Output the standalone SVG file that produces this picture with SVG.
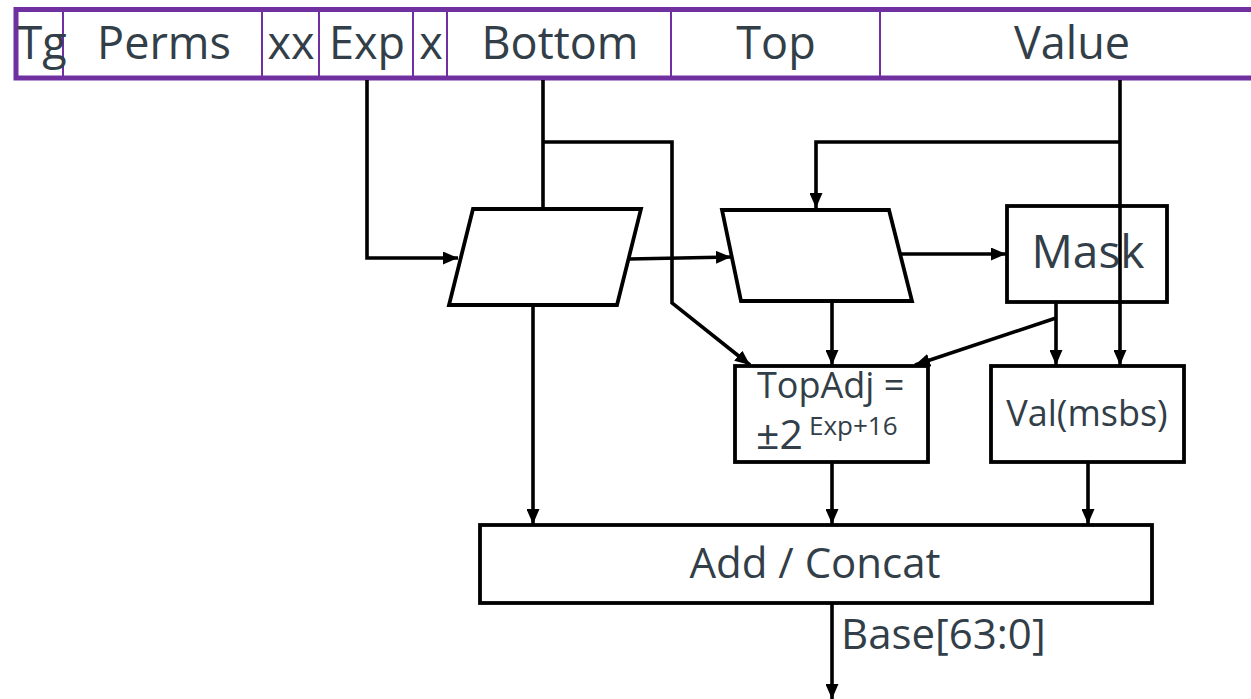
<svg xmlns="http://www.w3.org/2000/svg" width="1251" height="699" viewBox="0 0 1251 699">
<style>
.t{font-family:"Open Sans","Liberation Sans",sans-serif;fill:#323e48;}
.h{font-size:45px;text-anchor:middle;}
.box{fill:#fff;stroke:#000;stroke-width:3.8;stroke-linejoin:miter;}
.ln{fill:none;stroke:#000;stroke-width:3.6;}
.div{stroke:#7030a0;stroke-width:2;}
</style>
<defs>
<marker id="ah" markerUnits="userSpaceOnUse" markerWidth="15" markerHeight="13" refX="15" refY="6.5" orient="auto">
<path d="M0,0 L15,6.5 L0,13 z" fill="#000"/>
</marker>
</defs>
<rect width="1251" height="699" fill="#fff"/>
<g id="header">
<rect x="16" y="9.5" width="1245" height="68.5" fill="#fff" stroke="#7030a0" stroke-width="5"/>
<line class="div" x1="63" y1="12" x2="63" y2="76"/>
<line class="div" x1="262" y1="12" x2="262" y2="76"/>
<line class="div" x1="319" y1="12" x2="319" y2="76"/>
<line class="div" x1="413" y1="12" x2="413" y2="76"/>
<line class="div" x1="447" y1="12" x2="447" y2="76"/>
<line class="div" x1="671" y1="12" x2="671" y2="76"/>
<line class="div" x1="880" y1="12" x2="880" y2="76"/>
<text class="t h" x="42" y="59" font-size="43">Tg</text>
<text class="t h" x="164" y="59">Perms</text>
<text class="t h" x="291" y="59">xx</text>
<text class="t h" x="367" y="59">Exp</text>
<text class="t h" x="431" y="59">x</text>
<text class="t h" x="560" y="59">Bottom</text>
<text class="t h" x="776" y="59">Top</text>
<text class="t h" x="1072" y="59">Value</text>
</g>
<g id="connectors">
<polyline class="ln" points="367,80 367,258 458,258" marker-end="url(#ah)"/>
<polyline class="ln" points="543,80 543,209"/>
<polyline class="ln" points="543,142 672,142 672,303 750,365" marker-end="url(#ah)"/>
<polyline class="ln" points="629,259 731,257" marker-end="url(#ah)"/>
<polyline class="ln" points="1120,80 1120,365" marker-end="url(#ah)"/>
<polyline class="ln" points="1120,142 816,142 816,208" marker-end="url(#ah)"/>
<polyline class="ln" points="899,254 1006,254" marker-end="url(#ah)"/>
<polyline class="ln" points="832,302 832,365" marker-end="url(#ah)"/>
<polyline class="ln" points="1056,302 1056,365" marker-end="url(#ah)"/>
<polyline class="ln" points="1056,318 915,365" marker-end="url(#ah)"/>
<polyline class="ln" points="533,305 533,524" marker-end="url(#ah)"/>
<polyline class="ln" points="832,462 832,524" marker-end="url(#ah)"/>
<polyline class="ln" points="1088,462 1088,524" marker-end="url(#ah)"/>
<polyline class="ln" points="832,604 832,699" marker-end="url(#ah)"/>
</g>
<g id="shift1">
<polygon class="box" points="473,209 641,209 617,305 449,305"/>
</g>
<g id="shift2">
<polygon class="box" points="722,210 889,210 912,301 741,301"/>
</g>
<g id="mask">
<rect class="box" x="1007" y="206" width="160" height="96"/>
<text class="t" x="1088" y="268" font-size="46" text-anchor="middle">Mask</text>
</g>
<line class="ln" x1="1120" y1="204" x2="1120" y2="304"/>
<g id="topadj">
<rect class="box" x="735" y="366" width="193" height="96"/>
<text class="t" x="757" y="398" font-size="36">TopAdj =</text>
<text class="t" x="756" y="449" font-size="41">±2</text>
<text class="t" x="809" y="435" font-size="26">Exp+16</text>
</g>
<g id="valmsbs">
<rect class="box" x="991" y="366" width="193" height="96"/>
<text class="t" x="1087" y="426" font-size="36" text-anchor="middle">Val(msbs)</text>
</g>
<g id="add">
<rect class="box" x="480" y="525" width="672" height="78"/>
<text class="t" x="815" y="578" font-size="42" text-anchor="middle">Add / Concat</text>
</g>
<g id="base-label">
<text class="t" x="841" y="649" font-size="42">Base[63:0]</text>
</g>
</svg>
